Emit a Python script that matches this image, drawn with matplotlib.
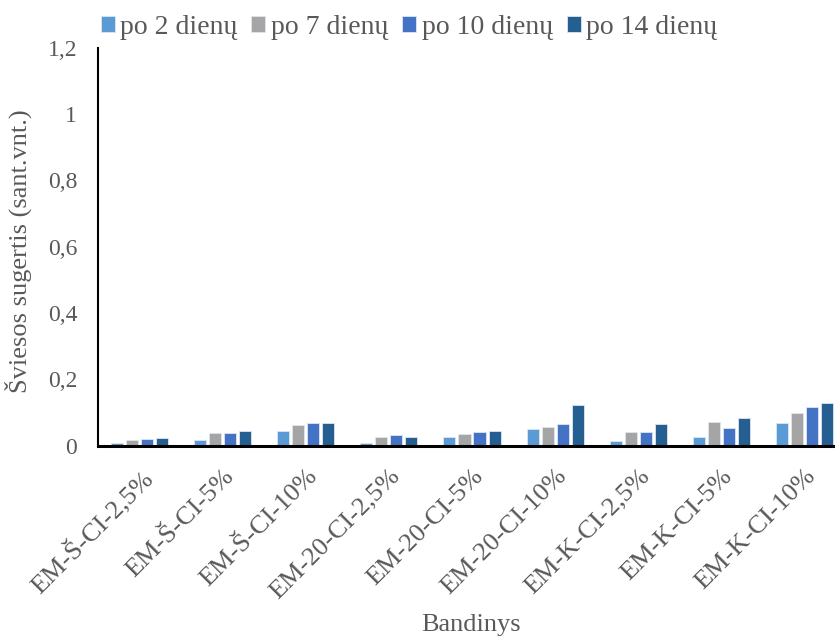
import matplotlib
matplotlib.use("Agg")
import matplotlib.pyplot as plt
import numpy as np

categories = ["EM-Š-CI-2,5%", "EM-Š-CI-5%", "EM-Š-CI-10%", "EM-20-CI-2,5%", "EM-20-CI-5%",
              "EM-20-CI-10%", "EM-K-CI-2,5%", "EM-K-CI-5%", "EM-K-CI-10%"]
series_names = ["po 2 dienų", "po 7 dienų", "po 10 dienų", "po 14 dienų"]
d2 = [0.007, 0.016, 0.043, 0.009, 0.027, 0.050, 0.014, 0.027, 0.069]
d7 = [0.017, 0.037, 0.062, 0.026, 0.036, 0.057, 0.040, 0.072, 0.099]
d10 = [0.021, 0.039, 0.067, 0.033, 0.041, 0.066, 0.042, 0.052, 0.115]
d14 = [0.022, 0.043, 0.067, 0.026, 0.043, 0.122, 0.064, 0.082, 0.129]
yticks = [0, 0.2, 0.4, 0.6, 0.8, 1.0, 1.2]
ytick_labels = ["0", "0,2", "0,4", "0,6", "0,8", "1", "1,2"]
colors = ["#5B9BD5", "#A5A5A5", "#4472C4", "#255E91"]

plt.rcParams['font.family'] = ['Liberation Serif', 'DejaVu Serif']
W, H = 835, 637
fig = plt.figure(figsize=(W/100, H/100), dpi=100)
left, right, top, bottom = 98, 846, 48, 445.5
ax = fig.add_axes([left/W, 1-bottom/H, (right-left)/W, (bottom-top)/H])

x = np.arange(len(categories))
pitch = 0.181
width = 0.145
for i, (vals, name) in enumerate(zip([d2, d7, d10, d14], series_names)):
    ax.bar(x + (i-1.5)*pitch, vals, width, color=colors[i], label=name,
           edgecolor="#dde6f2", linewidth=0.6)

ax.set_xlim(-0.5, len(categories)-0.5)
ax.set_ylim(0, 1.2)
ax.set_yticks(yticks)
ax.set_yticklabels(ytick_labels, fontsize=17, color="#595959")
ax.set_xticks(x)
ax.set_xticklabels(categories, rotation=45, ha="right", rotation_mode="anchor",
                   fontsize=19, color="#595959")
ax.tick_params(axis="y", length=0, pad=15)
ax.tick_params(axis="x", length=0, pad=14)
for s in ["top", "right"]:
    ax.spines[s].set_visible(False)
ax.spines["left"].set_color("black")
ax.spines["left"].set_linewidth(1.5)
ax.spines["bottom"].set_color("black")
ax.spines["bottom"].set_linewidth(2.2)

fig.text(18/W, 1-251/H, "Šviesos sugertis (sant.vnt.)", fontsize=19, color="#595959",
         rotation=90, ha="center", va="center")
fig.text(471/W, 1-625/H, "Bandinys", fontsize=19, color="#595959", ha="center", va="center")

leg = fig.legend(loc="center", bbox_to_anchor=(409/W, 1-27/H), ncol=4, frameon=False,
                 fontsize=20, handlelength=0.5, handleheight=0.5, handletextpad=0.2,
                 columnspacing=0.5)
for t in leg.get_texts():
    t.set_color("#595959")

fig.savefig("out.png", dpi=100)
